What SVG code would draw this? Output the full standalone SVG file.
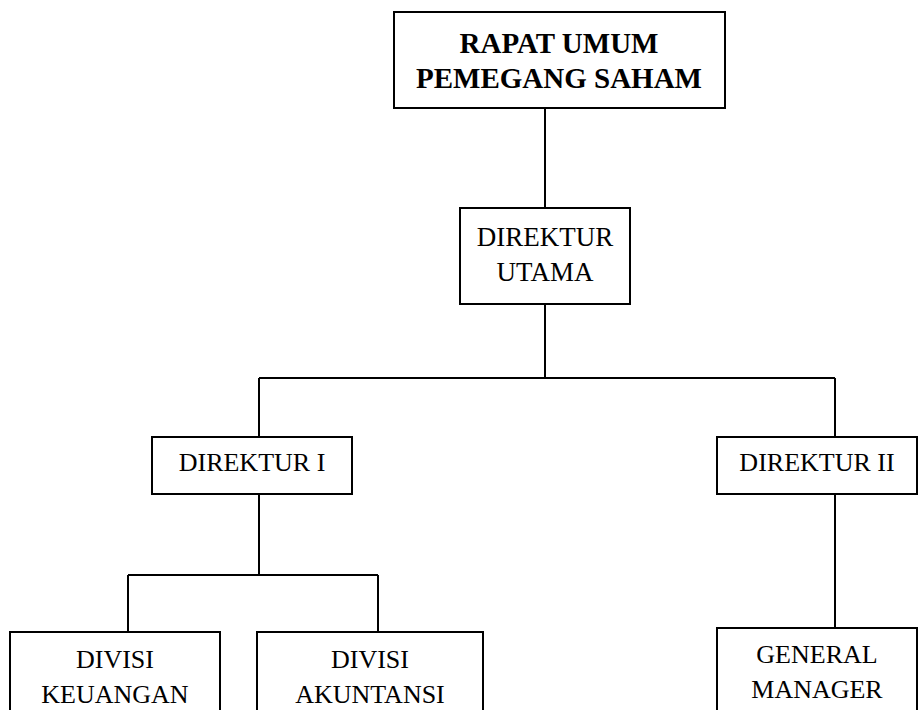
<svg xmlns="http://www.w3.org/2000/svg" width="919" height="710" viewBox="0 0 919 710">
<style>
.box{fill:#fff;stroke:#000;stroke-width:2}
.t{font-family:"Liberation Serif","Times New Roman",serif;font-size:26px;fill:#000;text-anchor:middle}
.b{font-weight:bold;font-size:29px}
.c{fill:none;stroke:#000;stroke-width:2}
</style>
<rect width="919" height="710" fill="#fff"/>
<g id="connectors">
<path class="c" d="M545 108V208M545 304V378M259 378H835M259 378V437M835 378V437M259 494V575M128 575H378M128 575V632M378 575V632M835 494V628"/>
</g>
<g id="rups">
<rect class="box" x="394" y="12" width="331" height="96"/>
<text class="t b" x="559" y="53">RAPAT UMUM</text>
<text class="t b" x="559" y="88">PEMEGANG SAHAM</text>
</g>
<g id="direktur-utama">
<rect class="box" x="460" y="208" width="170" height="96"/>
<text class="t" x="545" y="246" style="font-size:27px">DIREKTUR</text>
<text class="t" x="545" y="281" style="font-size:27px">UTAMA</text>
</g>
<g id="direktur-1">
<rect class="box" x="152" y="437" width="200" height="57"/>
<text class="t" x="252" y="471">DIREKTUR I</text>
</g>
<g id="direktur-2">
<rect class="box" x="717" y="437" width="200" height="57"/>
<text class="t" x="817" y="471">DIREKTUR II</text>
</g>
<g id="divisi-keuangan">
<rect class="box" x="10" y="632" width="210" height="90"/>
<text class="t" x="115" y="668">DIVISI</text>
<text class="t" x="115" y="703">KEUANGAN</text>
</g>
<g id="divisi-akuntansi">
<rect class="box" x="257" y="632" width="226" height="90"/>
<text class="t" x="370" y="668">DIVISI</text>
<text class="t" x="370" y="703">AKUNTANSI</text>
</g>
<g id="general-manager">
<rect class="box" x="717" y="628" width="200" height="94"/>
<text class="t" x="817" y="663">GENERAL</text>
<text class="t" x="817" y="698">MANAGER</text>
</g>
</svg>
